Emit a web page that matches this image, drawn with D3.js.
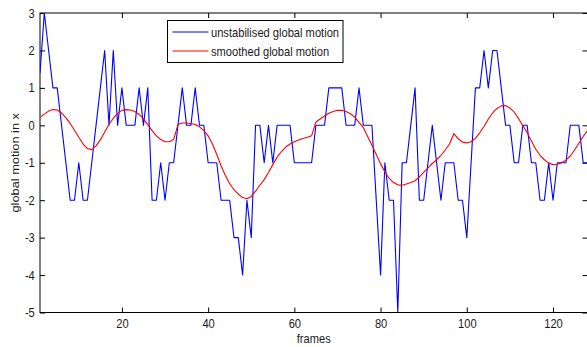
<!DOCTYPE html>
<html>
<head>
<meta charset="utf-8">
<script src="https://cdn.jsdelivr.net/npm/d3@7"></script>
<style>
  html, body { margin: 0; padding: 0; background: #fff; }
  svg { display: block; }
  text { font-family: "Liberation Sans", Arial, Helvetica, sans-serif; fill: #1a1a1a; }
</style>
</head>
<body>
<svg id="chart" width="587" height="347"></svg>
<script>
// frame values (frame 1..128)
const unstabilised = [
  1.4, 3, 2, 1, 1, 0, -1, -2, -2, -1, -2, -2, -1, 0, 1, 2, 0, 2, 0, 1,
  0, 0, 0, 1, 0, 1, -2, -2, -1, -2, -1, -1, 0, 1, 0, 0, 1, 0, 0, -1,
  -1, -1, -2, -2, -2, -3, -3, -4, -2, -3, 0, 0, -1, 0, -1, 0, 0, 0, 0, -1,
  -1, -1, -1, -1, 0, 0, 0, 1, 1, 1, 1, 0, 0, 0, 1, 0, 0, 0, -2, -4,
  -1, -2, -2, -5, -1, -1, 0, 1, -2, -2, -1, 0, -1, -2, -1, -1, -1, -2, -2, -3,
  -1, 1, 1, 2, 1, 2, 2, 1, 0, 0, -1, -1, 0, 0, -1, -1, -2, -2, -1, -2,
  -1, -1, -1, 0, 0, 0, -1, -1
];

const smoothed = [
  0.22, 0.30, 0.38, 0.42, 0.41, 0.33, 0.20, 0.05, -0.13, -0.32,
  -0.50, -0.62, -0.65, -0.55, -0.39, -0.18, 0.02, 0.19, 0.32, 0.40,
  0.42, 0.41, 0.37, 0.29, 0.17, 0.02, -0.14, -0.28, -0.38, -0.44,
  -0.44, -0.38, 0.02, 0.06, 0.06, 0.05, 0.02, -0.04, -0.14, -0.28,
  -0.50, -0.78, -1.08, -1.34, -1.56, -1.72, -1.84, -1.93, -1.96, -1.90,
  -1.76, -1.60, -1.45, -1.26, -1.05, -0.85, -0.70, -0.58, -0.50, -0.44,
  -0.39, -0.35, -0.32, -0.28, 0.09, 0.17, 0.25, 0.32, 0.37, 0.40,
  0.40, 0.37, 0.31, 0.22, 0.08, -0.06, -0.30, -0.53, -0.78, -1.03,
  -1.24, -1.42, -1.53, -1.59, -1.60, -1.57, -1.53, -1.48, -1.38, -1.26,
  -1.14, -1.02, -0.92, -0.80, -0.66, -0.50, -0.22, -0.36, -0.45, -0.47,
  -0.44, -0.35, -0.20, -0.03, 0.17, 0.33, 0.45, 0.52, 0.53, 0.46,
  0.35, 0.18, -0.01, -0.20, -0.42, -0.64, -0.80, -0.92, -1.01, -1.05,
  -1.04, -1.00, -0.93, -0.82, -0.66, -0.48, -0.30, -0.14
];

const xTicks = [20, 40, 60, 80, 100, 120];
const yTicks = [-5, -4, -3, -2, -1, 0, 1, 2, 3];
const seriesNames = ["unstabilised global motion", "smoothed global motion"];
const seriesColors = ["#0000ff", "#ff0000"];

const svg = d3.select("#chart");
const plot = { left: 40, right: 587.5, top: 13, bottom: 312.5 };
const fontSize = 12.8;
const squeeze = 0.87;   // the picture's text is a bit narrow

const x = d3.scaleLinear().domain([1, 128]).range([plot.left, plot.right]);
const y = d3.scaleLinear().domain([-5, 3]).range([plot.bottom, plot.top]);

svg.append("defs").append("clipPath").attr("id", "clip")
  .append("rect")
    .attr("x", plot.left).attr("y", plot.top)
    .attr("width", plot.right - plot.left)
    .attr("height", plot.bottom - plot.top);

function styleAxis(g) {
  g.select(".domain").remove();
  g.selectAll("line").attr("stroke", "#000").attr("stroke-width", 1);
  g.selectAll("text")
    .attr("font-size", fontSize)
    .attr("font-family", "Liberation Sans, Arial, sans-serif")
    .attr("fill", "#1a1a1a");
}

// bottom axis
svg.append("g")
  .attr("transform", `translate(0,${plot.bottom})`)
  .call(d3.axisBottom(x).tickValues(xTicks).tickSizeInner(-5).tickSizeOuter(0)
    .tickPadding(6).tickFormat(d => String(d)))
  .call(styleAxis)
  .selectAll("text").attr("transform", `scale(${squeeze},1)`);

// top axis (ticks only)
svg.append("g")
  .attr("transform", `translate(0,${plot.top})`)
  .call(d3.axisTop(x).tickValues(xTicks).tickSizeInner(-5).tickSizeOuter(0).tickFormat(""))
  .call(styleAxis);

// left axis
svg.append("g")
  .attr("transform", `translate(${plot.left},0)`)
  .call(d3.axisLeft(y).tickValues(yTicks).tickSizeInner(-5).tickSizeOuter(0)
    .tickPadding(6).tickFormat(d => String(d)))
  .call(styleAxis)
  .selectAll("text").attr("transform", `scale(${squeeze},1)`);

// right axis (ticks only)
svg.append("g")
  .attr("transform", `translate(${plot.right},0)`)
  .call(d3.axisRight(y).tickValues(yTicks).tickSizeInner(-5).tickSizeOuter(0).tickFormat(""))
  .call(styleAxis);

// box
svg.append("rect")
  .attr("x", plot.left).attr("y", plot.top)
  .attr("width", plot.right - plot.left)
  .attr("height", plot.bottom - plot.top)
  .attr("fill", "none")
  .attr("stroke", "#000")
  .attr("stroke-width", 1);

// lines
const line = d3.line()
  .x((d, i) => x(i + 1))
  .y(d => y(d));

const lines = svg.append("g").attr("clip-path", "url(#clip)");
[unstabilised, smoothed].forEach((series, k) => {
  lines.append("path")
    .datum(series)
    .attr("d", line)
    .attr("fill", "none")
    .attr("stroke", seriesColors[k])
    .attr("stroke-width", 1.1)
    .attr("stroke-linejoin", "round");
});

// axis labels
svg.append("text")
  .attr("transform", `translate(${(plot.left + plot.right) / 2},343) scale(${squeeze},1)`)
  .attr("text-anchor", "middle")
  .attr("font-size", fontSize)
  .text("frames");

svg.append("text")
  .attr("transform", `translate(19,${(plot.top + plot.bottom) / 2}) rotate(-90) scale(1,${squeeze})`)
  .attr("text-anchor", "middle")
  .attr("font-size", fontSize)
  .text("global motion in x");

// legend
const legend = svg.append("g").attr("transform", "translate(167.5,20.5)");
legend.append("rect")
  .attr("width", 175.5).attr("height", 42)
  .attr("fill", "#fff")
  .attr("stroke", "#000")
  .attr("stroke-width", 1);

seriesNames.forEach((name, k) => {
  const ly = 11.5 + k * 19;
  legend.append("line")
    .attr("x1", 5).attr("x2", 41)
    .attr("y1", ly).attr("y2", ly)
    .attr("stroke", seriesColors[k])
    .attr("stroke-width", 1.1);
  legend.append("text")
    .attr("transform", `translate(43.5,${ly + 4.5}) scale(${squeeze},1)`)
    .attr("font-size", fontSize)
    .text(name);
});
</script>
</body>
</html>
